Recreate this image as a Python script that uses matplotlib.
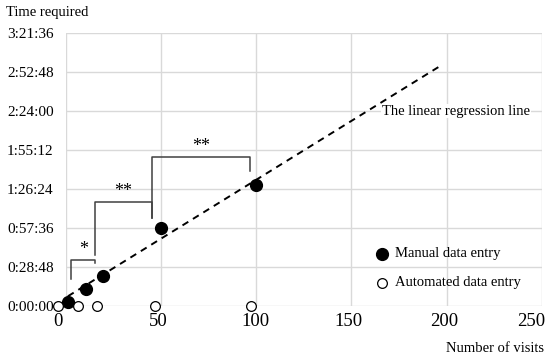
import matplotlib.pyplot as plt
from matplotlib.transforms import ScaledTranslation

plt.rcParams['font.family'] = ['Liberation Serif', 'DejaVu Serif']

# values (x: number of visits, y: minutes)
manual_x = [1, 10.5, 19.5, 50, 100]
manual_y = [3, 12.5, 22, 57.6, 89.3]
auto_x = [-4, 6.5, 16.5, 47, 97]
auto_y = [0, 0, 0, 0, 0]
reg_x = [1, 198]
reg_y = [7.2, 178.5]

# significance brackets: x-left, x-right, y-left-foot, y-right-foot, y-top, label
brackets = [
    (2.6, 15.5, 20, 31.8, 34, "*"),
    (15, 45, 37.7, 65, 77, "**"),
    (45, 96.8, 65, 99.7, 110, "**"),
]

y_ticks = [0, 28.8, 57.6, 86.4, 115.2, 144, 172.8, 201.6]
y_labels = ["0:00:00", "0:28:48", "0:57:36", "1:26:24",
            "1:55:12", "2:24:00", "2:52:48", "3:21:36"]
x_ticks = [0, 50, 100, 150, 200, 250]

fig = plt.figure(figsize=(5.5, 3.6), dpi=100)
ax = fig.add_axes([0.12, 0.15, 0.865, 0.758])

ax.plot(reg_x, reg_y, color='black', ls=(0, (3.5, 2.8)), lw=1.4, zorder=2)
ax.plot(manual_x, manual_y, 'o', color='black', ms=8.5, zorder=4, clip_on=False)
ax.plot(auto_x, auto_y, 'o', mfc='white', mec='black', mew=0.9, ms=7,
        zorder=4, clip_on=False)

for x0, x1, yl, yr, yt, lab in brackets:
    ax.plot([x0, x0, x1, x1], [yl, yt, yt, yr], color='#404040', lw=1.1, zorder=3)
    ax.text((x0 + x1) / 2, yt + 1.5, lab, ha='center', va='bottom', fontsize=13)

ax.text(166, 144, "The linear regression line", ha='left', va='center',
        fontsize=10.5, zorder=5,
        bbox=dict(facecolor='white', edgecolor='none', pad=0.5))

ax.set_xlim(0, 250)
ax.set_ylim(0, 201.6)
ax.set_xticks(x_ticks)
ax.set_yticks(y_ticks)
ax.set_yticklabels(y_labels)
ax.tick_params(axis='x', labelsize=13.5, length=0, pad=5)
ax.tick_params(axis='y', labelsize=11, length=0, pad=9)
ax.grid(True, color='#d9d9d9', lw=1)
ax.set_axisbelow(True)
for s in ax.spines.values():
    s.set_visible(False)

# x tick labels sit a little left of their grid lines in the original
for lbl, dx in zip(ax.get_xticklabels(), [-8, -3, -1, -3, -2, -11]):
    lbl.set_transform(lbl.get_transform() + ScaledTranslation(dx / 100, 0, fig.dpi_scale_trans))

# legend drawn by hand
ax.plot([166], [38.5], 'o', color='black', ms=8.5, clip_on=False)
ax.text(173, 38.5, "Manual data entry", va='center', fontsize=10.5)
ax.plot([166], [17], 'o', mfc='white', mec='black', mew=0.9, ms=7, clip_on=False)
ax.text(173, 17, "Automated data entry", va='center', fontsize=10.5)

fig.text(0.011, 0.965, "Time required", ha='left', va='center', fontsize=10.5)
fig.text(0.99, 0.033, "Number of visits", ha='right', va='center', fontsize=10.5)

fig.savefig("out.png", dpi=100)
